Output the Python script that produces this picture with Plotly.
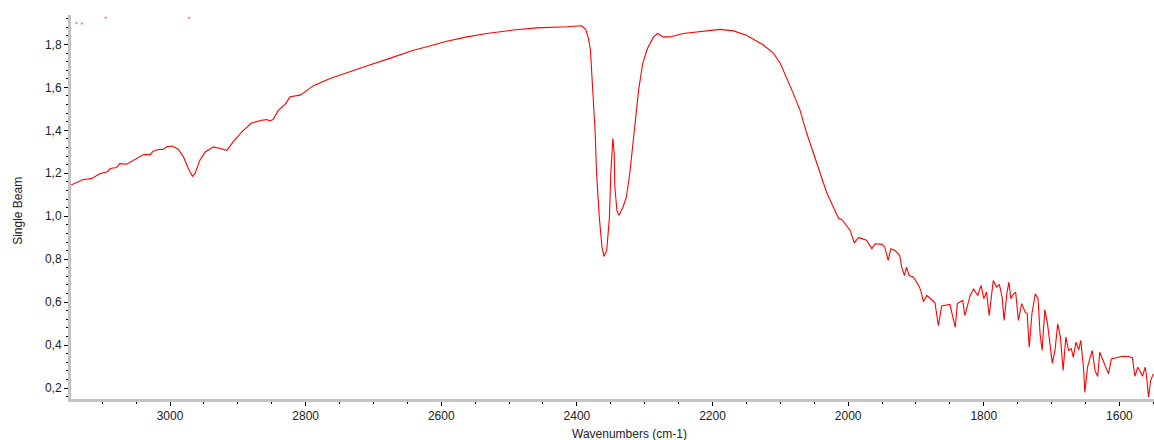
import plotly.graph_objects as go

# Wavenumbers (cm-1) and Single Beam intensity
wavenumber = [
    3146, 3143, 3128, 3116, 3103, 3093, 3088, 3079, 3074, 3064, 3056, 3049, 3039, 3029,
    3025, 3017, 3010, 3005, 2997, 2988, 2980, 2973, 2967, 2963, 2956, 2948, 2936, 2926,
    2916, 2907, 2894, 2880, 2865, 2857, 2853, 2848, 2840, 2830, 2823, 2808, 2789, 2764,
    2739, 2710, 2676, 2641, 2617, 2592, 2562, 2533, 2494, 2459, 2415, 2393, 2387, 2383,
    2380, 2378, 2376, 2373, 2371, 2367, 2363, 2360, 2356, 2352, 2350, 2348, 2347, 2345,
    2344, 2341, 2338, 2332, 2327, 2322, 2316, 2309, 2303, 2296, 2287, 2281, 2273, 2263,
    2243, 2214, 2189, 2169, 2150, 2125, 2110, 2100, 2091, 2081, 2071, 2061, 2051, 2041,
    2032, 2022, 2014, 2009, 1997, 1991, 1985, 1982, 1973, 1965, 1960, 1950, 1946, 1941,
    1937, 1931, 1924, 1921, 1917, 1914, 1910, 1904, 1896, 1893, 1889, 1884, 1872, 1867,
    1862, 1850, 1842, 1839, 1831, 1828, 1820, 1815, 1809, 1804, 1800, 1796, 1792, 1788,
    1786, 1781, 1777, 1773, 1770, 1766, 1763, 1760, 1756, 1753, 1749, 1744, 1739, 1736,
    1733, 1729, 1724, 1720, 1717, 1714, 1710, 1706, 1702, 1699, 1695, 1691, 1687, 1683,
    1679, 1675, 1671, 1668, 1664, 1660, 1657, 1653, 1651, 1647, 1643, 1640, 1636, 1632,
    1629, 1624, 1620, 1616, 1612, 1606, 1597, 1587, 1581, 1577, 1573, 1570, 1566, 1562,
    1560, 1557, 1554, 1550,
]
single_beam = [
    1.145, 1.149, 1.171, 1.175, 1.199, 1.206, 1.222, 1.227, 1.245, 1.242, 1.257, 1.271, 1.287, 1.287,
    1.303, 1.311, 1.311, 1.323, 1.327, 1.312, 1.276, 1.222, 1.186, 1.199, 1.261, 1.299, 1.323, 1.315,
    1.307, 1.346, 1.393, 1.434, 1.447, 1.450, 1.444, 1.450, 1.494, 1.522, 1.556, 1.564, 1.607, 1.641,
    1.669, 1.700, 1.735, 1.773, 1.793, 1.815, 1.835, 1.851, 1.867, 1.877, 1.882, 1.887, 1.870, 1.828,
    1.773, 1.657, 1.500, 1.385, 1.199, 0.996, 0.856, 0.813, 0.841, 0.996, 1.199, 1.292, 1.362, 1.292,
    1.136, 1.027, 1.004, 1.043, 1.090, 1.199, 1.385, 1.587, 1.711, 1.781, 1.835, 1.851, 1.835, 1.835,
    1.851, 1.862, 1.870, 1.863, 1.843, 1.797, 1.758, 1.711, 1.649, 1.572, 1.494, 1.385, 1.292, 1.199,
    1.113, 1.043, 0.989, 0.984, 0.934, 0.876, 0.900, 0.898, 0.888, 0.849, 0.872, 0.869, 0.856, 0.794,
    0.849, 0.841, 0.818, 0.763, 0.724, 0.763, 0.724, 0.717, 0.678, 0.655, 0.603, 0.631, 0.597, 0.491,
    0.582, 0.589, 0.483, 0.593, 0.608, 0.538, 0.631, 0.662, 0.631, 0.678, 0.616, 0.647, 0.538, 0.647,
    0.701, 0.670, 0.683, 0.623, 0.515, 0.639, 0.693, 0.616, 0.639, 0.647, 0.515, 0.593, 0.553, 0.546,
    0.390, 0.546, 0.639, 0.616, 0.453, 0.375, 0.565, 0.499, 0.390, 0.316, 0.375, 0.499, 0.437, 0.282,
    0.437, 0.375, 0.383, 0.343, 0.414, 0.378, 0.422, 0.297, 0.180, 0.297, 0.343, 0.375, 0.282, 0.254,
    0.367, 0.329, 0.297, 0.266, 0.336, 0.341, 0.347, 0.347, 0.341, 0.255, 0.297, 0.282, 0.255, 0.297,
    0.255, 0.157, 0.235, 0.266,
]

# stray off-scale points visible near the top-left
stray_wn = [3138, 3130, 3095, 2972]
stray_val = [1.900, 1.898, 1.924, 1.924]

x_ticks = [3000, 2800, 2600, 2400, 2200, 2000, 1800, 1600]
y_ticks = [0.2, 0.4, 0.6, 0.8, 1.0, 1.2, 1.4, 1.6, 1.8]

FONT = "Arial, Liberation Sans, sans-serif"

fig = go.Figure()
fig.add_trace(go.Scatter(
    x=wavenumber, y=single_beam, mode="lines",
    line=dict(color="#ff0000", width=1.1),
    showlegend=False, hoverinfo="x+y",
))
fig.add_trace(go.Scatter(
    x=stray_wn, y=stray_val, mode="markers",
    marker=dict(color="rgba(255,60,60,0.6)", size=2.5),
    showlegend=False, hoverinfo="skip",
))

fig.update_layout(
    width=1154, height=440,
    margin=dict(l=71, r=0, t=15, b=41),
    paper_bgcolor="white", plot_bgcolor="white",
    separators=",.",
    font=dict(family=FONT, size=12, color="#222222"),
    xaxis=dict(
        range=[3146, 1549], tickvals=x_ticks, ticktext=[str(v) for v in x_ticks],
        showgrid=False, zeroline=False,
        showline=True, linecolor="#c4c4c4", linewidth=3,
        ticks="outside", ticklen=4, tickwidth=1, tickcolor="black",
        minor=dict(dtick=50, ticks="outside", ticklen=2, tickwidth=1, tickcolor="black"),
        tickfont=dict(family=FONT, size=12, color="#222222"),
    ),
    yaxis=dict(
        range=[0.149, 1.937], tickvals=y_ticks, tickformat=".1f",
        showgrid=False, zeroline=False,
        showline=True, linecolor="#c4c4c4", linewidth=3,
        ticks="outside", ticklen=4, tickwidth=1, tickcolor="black",
        minor=dict(dtick=0.04, ticks="outside", ticklen=2, tickwidth=1, tickcolor="black"),
        tickfont=dict(family=FONT, size=12, color="#222222"),
    ),
    annotations=[
        dict(text="Wavenumbers (cm-1)", xref="paper", yref="paper",
             x=0.516, y=0, yshift=-35, xanchor="center", yanchor="middle",
             showarrow=False, font=dict(family=FONT, size=12, color="#222222")),
        dict(text="Single Beam", xref="paper", yref="paper",
             x=0, xshift=-53, y=0.49, xanchor="center", yanchor="middle",
             textangle=-90, showarrow=False,
             font=dict(family=FONT, size=12, color="#222222")),
    ],
)

fig.write_html(
    "out.html",
    config={"displayModeBar": False},
    post_script="document.body.style.margin='0';document.body.style.padding='0';",
)
